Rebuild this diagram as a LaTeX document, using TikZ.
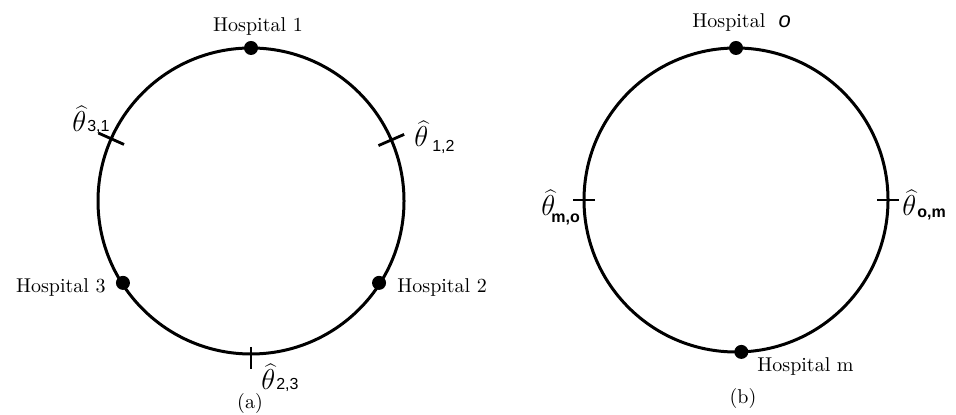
\documentclass[tikz,border=0pt]{standalone}
\usepackage{fontspec}
\setsansfont{Liberation Sans}
\usetikzlibrary{calc}
\newcommand{\subtx}[1]{{\fontsize{8}{8}\selectfont\sffamily #1}}
\newcommand{\thhat}{{\Large$\widehat{\theta}$}}
\begin{document}
\begin{tikzpicture}[x=0.5pt,y=0.5pt,
  ring/.style={line width=1.5pt},
  tickln/.style={line width=1.4pt},
  dot/.style={circle,fill=black,inner sep=0pt,minimum size=7pt},
  hlab/.style={anchor=base,inner sep=0pt,font=\fontsize{10}{12}\selectfont},
  thlab/.style={anchor=base west,inner sep=0pt}]
\useasboundingbox (0,0) rectangle (956,-415);
% ---------- (a) ----------
\coordinate (cA) at (251,-201);
\draw[ring] (cA) circle (153);
\node[dot] (h1) at ($(cA)+(90:153)$) {};
\node[dot] (h2) at ($(cA)+(-32.6:152)$) {};
\node[dot] (h3) at ($(cA)+(212.6:152)$) {};
\draw[tickln] ($(cA)+(156:139)$) -- ($(cA)+(156:167)$);
\draw[tickln] ($(cA)+(23.5:139)$) -- ($(cA)+(23.5:167)$);
\draw[tickln] ($(cA)+(-90:146)$) -- ($(cA)+(-90:168)$);
\node[hlab] (t1) at (258,-32) {Hospital 1};
\node[hlab,anchor=base east] (t3) at (106,-293) {Hospital 3};
\node[hlab,anchor=base west] (t2) at (397,-293) {Hospital 2};
\node[thlab] (l31) at (72,-132) {\thhat\kern0.5pt\subtx{3,1}};
\node[thlab] (l12) at (414,-147) {\thhat\kern2pt\raisebox{-2.5pt}{\subtx{1,2}}};
\node[thlab] (l23) at (261,-390) {\thhat\kern0.5pt\subtx{2,3}};
\node[hlab] (capa) at (250,-409) {(a)};
% ---------- (b) ----------
\coordinate (cB) at (736,-200);
\draw[ring] (cB) circle (152);
\node[dot] (ho) at ($(cB)+(90:152)$) {};
\node[dot] (hm) at ($(cB)+(-88:152)$) {};
\draw[tickln] ($(cB)+(180:141)$) -- ($(cB)+(180:163)$);
\draw[tickln] ($(cB)+(0:141)$) -- ($(cB)+(0:163)$);
\node[hlab,anchor=base west] (to) at (692,-28) {Hospital\ \ {\sffamily\itshape\fontsize{11}{12}\selectfont o}};
\node[hlab,anchor=base west] (tm) at (757,-372) {Hospital m};
\node[thlab] (lmo) at (541,-216) {\thhat\kern-2pt\raisebox{-3.5pt}{\subtx{\bfseries m,o}}};
\node[thlab] (lom) at (902,-216) {\thhat\kern0.5pt\raisebox{-1pt}{\subtx{\bfseries o,m}}};
\node[hlab] (capb) at (743,-404) {(b)};
\end{tikzpicture}
\end{document}
